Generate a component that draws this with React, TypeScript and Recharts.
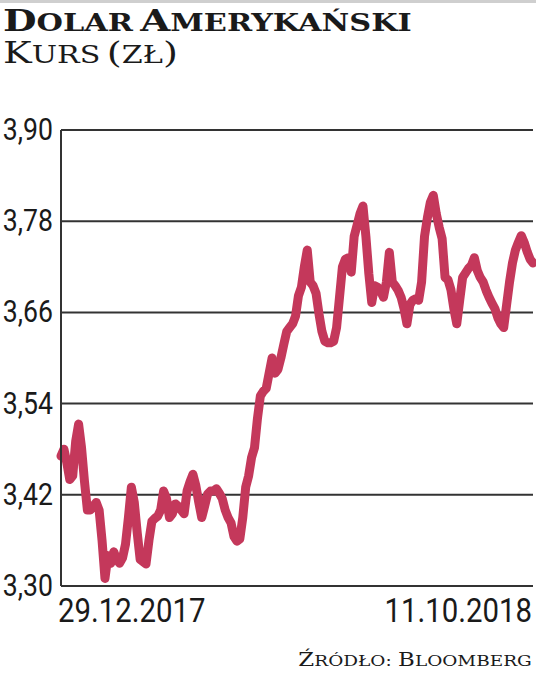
import React from "react";
import { LineChart, Line, XAxis, YAxis, CartesianGrid } from "recharts";

const title = "Dolar Amerykański";
const subtitle = "Kurs (zł)";
const source = "Źródło: Bloomberg";

const dateLabels = ["29.12.2017", "11.10.2018"];
const yTicks = [3.3, 3.42, 3.54, 3.66, 3.78, 3.9];

// USD/PLN daily rate
const rates = [
  3.471, 3.48, 3.462, 3.44, 3.445, 3.49, 3.513, 3.482, 3.438, 3.4,
  3.4, 3.405, 3.41, 3.4, 3.36, 3.31, 3.34, 3.33, 3.345, 3.335,
  3.33, 3.337, 3.355, 3.39, 3.43, 3.41, 3.37, 3.335, 3.332, 3.329,
  3.36, 3.385, 3.389, 3.392, 3.4, 3.425, 3.415, 3.39, 3.395, 3.408,
  3.405, 3.4, 3.395, 3.425, 3.437, 3.447, 3.432, 3.41, 3.39, 3.405,
  3.421, 3.425, 3.425, 3.428, 3.422, 3.415, 3.4, 3.39, 3.383, 3.365,
  3.359, 3.362, 3.39, 3.43, 3.445, 3.469, 3.482, 3.52, 3.55, 3.556,
  3.56, 3.58, 3.6, 3.58, 3.585, 3.6, 3.618, 3.635, 3.64, 3.645,
  3.655, 3.682, 3.693, 3.72, 3.742, 3.7, 3.695, 3.685, 3.658, 3.635,
  3.622, 3.62, 3.62, 3.622, 3.64, 3.68, 3.72, 3.73, 3.732, 3.713,
  3.76, 3.775, 3.79, 3.8, 3.76, 3.711, 3.673, 3.695, 3.693, 3.688,
  3.68, 3.7, 3.739, 3.7, 3.695, 3.689, 3.68, 3.665, 3.645, 3.67,
  3.676, 3.678, 3.676, 3.7, 3.76, 3.785, 3.805, 3.814, 3.79, 3.772,
  3.757, 3.706, 3.703, 3.69, 3.665, 3.645, 3.676, 3.706, 3.712, 3.718,
  3.722, 3.732, 3.715, 3.706, 3.7, 3.689, 3.68, 3.672, 3.665, 3.653,
  3.645, 3.64, 3.67, 3.7, 3.725, 3.742, 3.752, 3.761, 3.752, 3.74,
  3.73, 3.725,
];

const data = rates.map((v, i) => ({ i, v }));

const axisFont = "Roboto, sans-serif";
const serifFont = "'DejaVu Serif', serif";
const ink = "#1a1a1a";

// hand-made small caps: first letter of a word and brackets full size, rest smaller
const SmallCaps = ({ text, big, small }: { text: string; big: number; small: number }) => (
  <>
    {text.split(" ").map((word, wi) => (
      <React.Fragment key={wi}>
        {wi > 0 ? " " : ""}
        {Array.from(word).map((ch, ci) => {
          const full = ci === 0 || ch === "(" || ch === ")";
          return (
            <span key={ci} style={{ fontSize: full ? big : small }}>
              {ch.toUpperCase()}
            </span>
          );
        })}
      </React.Fragment>
    ))}
  </>
);

const PriceTick = (props: any) => {
  const { y, payload } = props;
  return (
    <text
      transform={`translate(53, ${y + 10}) scale(0.86, 1)`}
      textAnchor="end"
      fill={ink}
      fontSize={31}
      fontFamily={axisFont}
    >
      {payload.value.toFixed(2).replace(".", ",")}
    </text>
  );
};

const DateTick = (props: any) => {
  const { x, y, payload } = props;
  const first = payload.value === 0;
  return (
    <text
      transform={`translate(${first ? x - 3 : x - 1}, ${y + 28}) scale(0.89, 1)`}
      textAnchor={first ? "start" : "end"}
      fill={ink}
      fontSize={33}
      fontFamily={axisFont}
    >
      {first ? dateLabels[0] : dateLabels[1]}
    </text>
  );
};

export default function App() {
  return (
    <div
      style={{
        position: "absolute",
        left: 0,
        top: 0,
        width: 536,
        height: 680,
        background: "#fff",
        overflow: "hidden",
      }}
    >
      <div style={{ position: "absolute", left: 0, top: 0, width: 536, height: 3, background: "#cfcfcf" }} />
      <div
        style={{
          position: "absolute",
          left: 3,
          top: 2,
          fontFamily: serifFont,
          fontWeight: "bold",
          color: ink,
          whiteSpace: "nowrap",
          lineHeight: "38px",
          transform: "scaleX(1.29)",
          transformOrigin: "left top",
        }}
      >
        <SmallCaps text={title} big={30} small={23.5} />
      </div>
      <div
        style={{
          position: "absolute",
          left: 3,
          top: 34,
          fontFamily: serifFont,
          color: ink,
          whiteSpace: "nowrap",
          lineHeight: "38px",
          transform: "scaleX(1.28)",
          transformOrigin: "left top",
        }}
      >
        <SmallCaps text={subtitle} big={30} small={23.5} />
      </div>
      <div style={{ position: "absolute", left: 0, top: 0 }}>
        <LineChart
          width={536}
          height={640}
          data={data}
          margin={{ top: 130, right: 3, left: 0, bottom: 14 }}
        >
          <CartesianGrid vertical={false} stroke="#333" strokeWidth={2} />
          <XAxis
            dataKey="i"
            ticks={[0, rates.length - 1]}
            interval={0}
            axisLine={false}
            tickLine={false}
            height={40}
            tick={<DateTick />}
          />
          <YAxis
            domain={[3.3, 3.9]}
            ticks={yTicks}
            width={61}
            axisLine={{ stroke: "#333", strokeWidth: 2 }}
            tickLine={false}
            tick={<PriceTick />}
          />
          <Line
            type="linear"
            dataKey="v"
            stroke="#c4385b"
            strokeWidth={9}
            strokeLinejoin="round"
            strokeLinecap="round"
            dot={false}
            isAnimationActive={false}
          />
        </LineChart>
      </div>
      <div
        style={{
          position: "absolute",
          right: 4,
          top: 648,
          fontFamily: serifFont,
          color: ink,
          whiteSpace: "nowrap",
          lineHeight: "24px",
          transform: "scaleX(1.27)",
          transformOrigin: "right top",
        }}
      >
        <SmallCaps text={source} big={18} small={14.5} />
      </div>
    </div>
  );
}
